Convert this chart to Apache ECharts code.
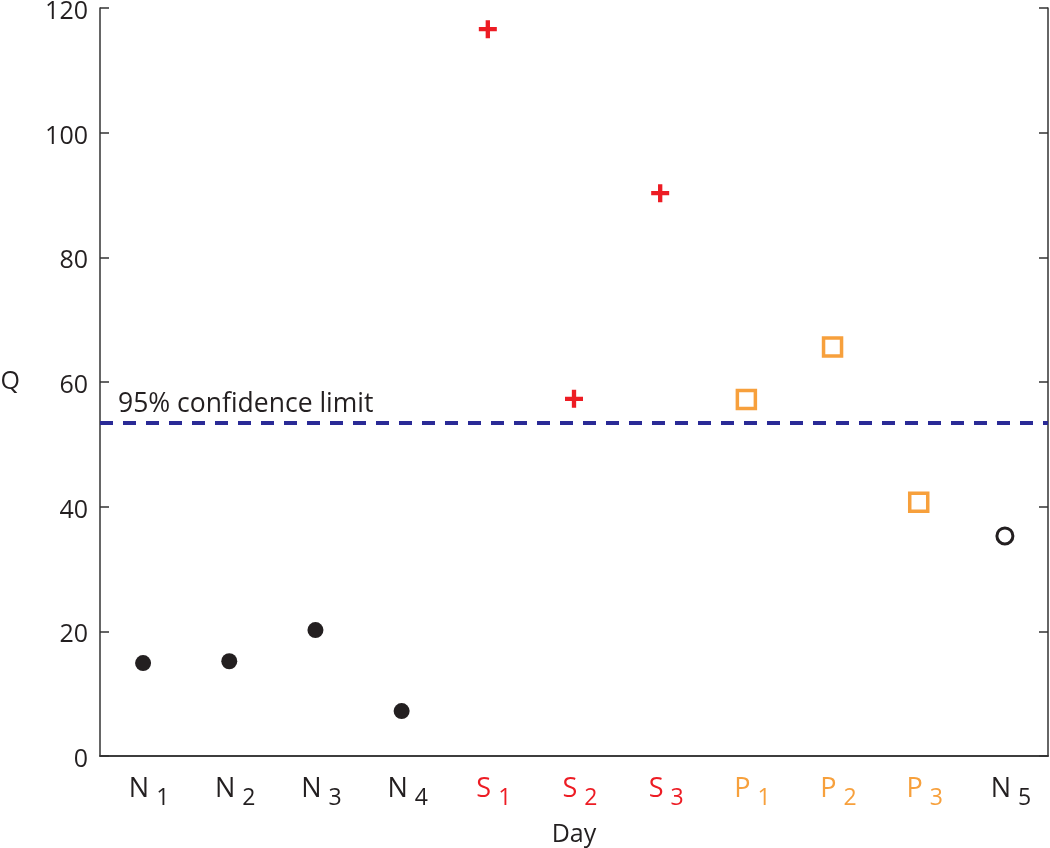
<!DOCTYPE html>
<html><head><meta charset="utf-8">
<script src="https://cdn.jsdelivr.net/npm/echarts@6/dist/echarts.min.js"></script>
<style>html,body{margin:0;padding:0;background:#fff}#c{width:1050px;height:848px}</style>
</head><body><div id="c"></div>
<script>
const categories = ['N1','N2','N3','N4','S1','S2','S3','P1','P2','P3','N5'];
const catLetters = ['N','N','N','N','S','S','S','P','P','P','N'];
const catSubs = ['1','2','3','4','1','2','3','1','2','3','5'];
const normalDays = ['N1','N2','N3','N4'];
const normalQ = [14.9, 15.2, 20.2, 7.2];
const stressDays = ['S1','S2','S3'];
const stressQ = [116.6, 57.3, 90.3];
const postDays = ['P1','P2','P3'];
const postQ = [57.2, 65.6, 40.7];
const lastDays = ['N5'];
const lastQ = [35.3];
const confidenceLimit = 53.4;
const yTicks = [0, 20, 40, 60, 80, 100, 120];

const colorN = '#231f20', colorS = '#ed1c24', colorP = '#f7a03c', colorLine = '#2a2a96';
const FONT = 'Open Sans';
const pairs = (d, v) => d.map((c, i) => [c, v[i]]);
const plus = 'path://M38,0H62V38H100V62H62V100H38V62H0V38H38Z';

const richFor = c => ({color: c, fontSize: 27, fontFamily: FONT, lineHeight: 30});
const richSub = c => ({color: c, fontSize: 23, fontFamily: FONT, lineHeight: 30, padding: [19, 0, 0, 0]});

const chart = echarts.init(document.getElementById('c'));
chart.setOption({
  animation: false,
  grid: {left: 100, right: 2, top: 8, bottom: 92, outerBoundsMode: 'none', containLabel: false},
  xAxis: [{
    type: 'category', data: categories, boundaryGap: true,
    axisLine: {lineStyle: {color: '#333', width: 1.5}},
    axisTick: {alignWithLabel: true, inside: true, length: 9, lineStyle: {color: '#333', width: 1.5}},
    axisLabel: {
      margin: 18, padding: [0, 0, 0, 12],
      formatter: (v, i) => {
        const l = catLetters[i];
        const k = l === 'S' ? 's' : (l === 'P' ? 'p' : 'n');
        return '{' + k + '|' + l + ' }{' + k + 'b|' + catSubs[i] + '}';
      },
      rich: {
        n: richFor(colorN), nb: richSub(colorN),
        s: richFor(colorS), sb: richSub(colorS),
        p: richFor(colorP), pb: richSub(colorP)
      }
    },
    splitLine: {show: false},
    name: 'Day', nameLocation: 'middle', nameGap: 66,
    nameTextStyle: {color: colorN, fontSize: 25, fontFamily: FONT}
  }, {
    type: 'category', data: categories, position: 'top', boundaryGap: true,
    axisLine: {lineStyle: {color: '#333', width: 1.5}},
    axisTick: {alignWithLabel: true, inside: true, length: 9, lineStyle: {color: '#333', width: 1.5}},
    axisLabel: {show: false}, splitLine: {show: false}
  }],
  yAxis: [{
    type: 'value', min: 0, max: 120, interval: 20,
    axisLine: {show: true, lineStyle: {color: '#333', width: 1.5}},
    axisTick: {show: true, inside: true, length: 9, lineStyle: {color: '#333', width: 1.5}},
    axisLabel: {margin: 12,
      formatter: v => yTicks.includes(v) ? '{a|' + v + '}' : '',
      rich: {a: {color: colorN, fontSize: 25, fontFamily: FONT, lineHeight: 26, padding: [8, 0, 0, 0]}}},
    splitLine: {show: false},
    name: 'Q', nameLocation: 'middle', nameGap: 80, nameRotate: 0,
    nameTextStyle: {color: colorN, fontSize: 25, fontFamily: FONT}
  }, {
    type: 'value', min: 0, max: 120, interval: 20, position: 'right',
    axisLine: {show: true, lineStyle: {color: '#333', width: 1.5}},
    axisTick: {show: true, inside: true, length: 9, lineStyle: {color: '#333', width: 1.5}},
    axisLabel: {show: false}, splitLine: {show: false}
  }],
  series: [{
    type: 'scatter', data: pairs(normalDays, normalQ),
    symbol: 'circle', symbolSize: 16,
    itemStyle: {color: colorN, opacity: 1},
    markLine: {
      silent: true, symbol: 'none',
      lineStyle: {color: colorLine, type: [13, 10], width: 4},
      label: {show: true, position: 'insideStartTop', formatter: '95% confidence limit',
        color: colorN, fontSize: 26.5, fontFamily: FONT, distance: [18, 5]},
      data: [{yAxis: confidenceLimit}]
    }
  }, {
    type: 'scatter', data: pairs(stressDays, stressQ),
    symbol: plus, symbolSize: 18,
    itemStyle: {color: colorS, opacity: 1}
  }, {
    type: 'scatter', data: pairs(postDays, postQ),
    symbol: 'rect', symbolSize: 18,
    itemStyle: {color: '#fff', borderColor: colorP, borderWidth: 3.5, opacity: 1}
  }, {
    type: 'scatter', data: pairs(lastDays, lastQ),
    symbol: 'circle', symbolSize: 16,
    itemStyle: {color: '#fff', borderColor: colorN, borderWidth: 3, opacity: 1}
  }]
});
</script></body></html>
